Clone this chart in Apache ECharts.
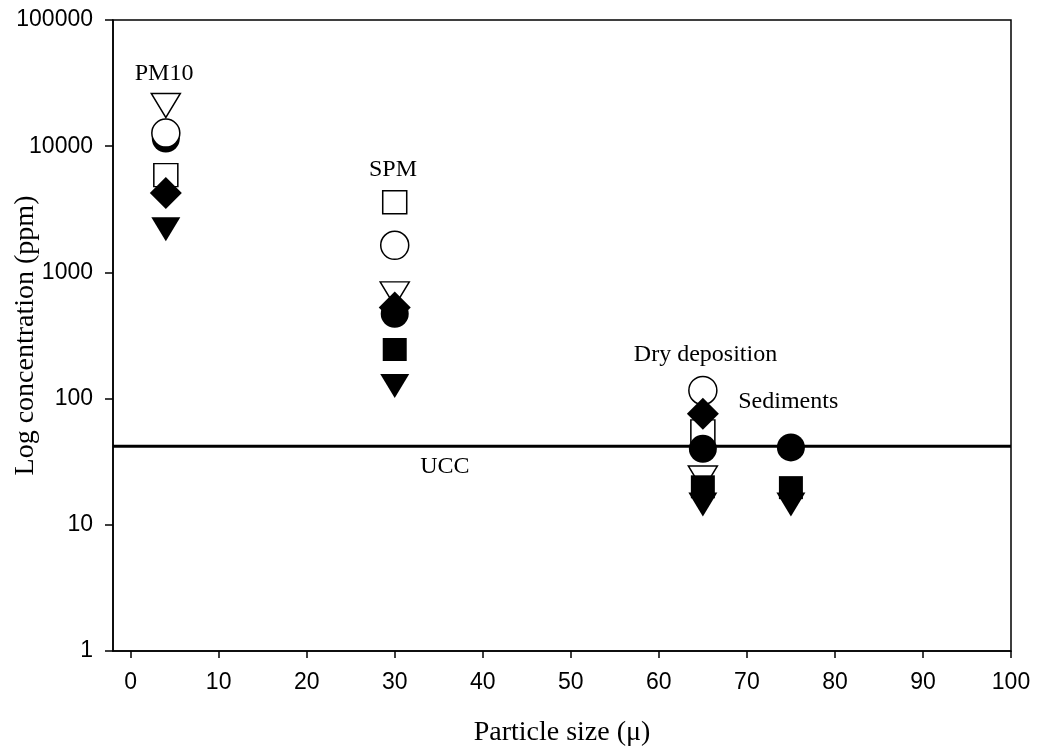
<!DOCTYPE html>
<html>
<head>
<meta charset="utf-8">
<script src="https://cdn.jsdelivr.net/npm/echarts@6/dist/echarts.min.js"></script>
<style>
html,body{margin:0;padding:0;background:#fff;}
#chart{width:1037px;height:748px;}
</style>
</head>
<body>
<div id="chart"></div>
<script>
// ---- Data (x = particle size, y = concentration in ppm) ----
const xTicks = [0, 10, 20, 30, 40, 50, 60, 70, 80, 90, 100];
const yTicks = [1, 10, 100, 1000, 10000, 100000];

const openSquare     = [[4, 5900], [30, 3600], [65, 55]];
const openTriangle   = [[4, 21000], [30, 675], [65, 23.5]];
const filledCircle   = [[4, 11500], [30, 470], [65, 40], [75, 41]];
const openCircle     = [[4, 12700], [30, 1640], [65, 116]];
const filledDiamond  = [[4, 4250], [30, 527], [65, 76]];
const filledSquare   = [[30, 245], [65, 20], [75, 19.7]];
const filledTriangle = [[4, 2200], [30, 126], [65, 14.5], [75, 14.5]];

const uccValue = 42;
const uccLine = [[-2, uccValue], [100, uccValue]];

const annotations = [
  [3.8, 37270, 'PM10'],
  [29.8, 6570, 'SPM'],
  [65.3, 223, 'Dry deposition'],
  [74.7, 94.7, 'Sediments'],
  [35.7, 28.8, 'UCC']
];

const serif = 'Liberation Serif, Times New Roman, serif';
const sans = 'Liberation Sans, Arial, sans-serif';

function openStyle() { return { color: '#fff', borderColor: '#000', borderWidth: 1.5, opacity: 1 }; }
function filledStyle() { return { color: '#000', borderColor: '#000', borderWidth: 0, opacity: 1 }; }

const chart = echarts.init(document.getElementById('chart'));
chart.setOption({
  animation: false,
  backgroundColor: '#fff',
  grid: {
    left: 113, right: 26, top: 20, bottom: 97,
    outerBoundsMode: 'none', containLabel: false,
    show: true, borderColor: '#000', borderWidth: 1.5, backgroundColor: 'transparent'
  },
  xAxis: {
    type: 'value', min: -2, max: 100,
    name: 'Particle size (\u03bc)', nameLocation: 'middle', nameGap: 68, nameMoveOverlap: false,
    nameTextStyle: { fontFamily: serif, fontSize: 28, color: '#000' },
    axisLine: { show: true, onZero: false, lineStyle: { color: '#000', width: 1.5 } },
    axisTick: { show: true, inside: false, length: 7, customValues: xTicks, lineStyle: { color: '#000', width: 1.5 } },
    axisLabel: { customValues: xTicks, margin: 20, fontFamily: sans, fontSize: 23, color: '#000' },
    splitLine: { show: false }
  },
  yAxis: {
    type: 'log', logBase: 10, min: 1, max: 100000,
    name: 'Log concentration (ppm)', nameLocation: 'middle', nameGap: 73, nameRotate: 90, nameMoveOverlap: false,
    nameTextStyle: { fontFamily: serif, fontSize: 28, color: '#000' },
    axisLine: { show: true, onZero: false, lineStyle: { color: '#000', width: 1.5 } },
    axisTick: { show: true, inside: false, length: 8, customValues: yTicks, lineStyle: { color: '#000', width: 1.5 } },
    axisLabel: { customValues: yTicks, margin: 20, fontFamily: sans, fontSize: 23, color: '#000',
      formatter: v => String(Math.round(v)) },
    splitLine: { show: false },
    minorTick: { show: false }
  },
  series: [
    { type: 'line', data: uccLine, symbol: 'none', lineStyle: { color: '#000', width: 3 }, z: 1, silent: true },
    { type: 'scatter', data: openSquare, symbol: 'rect', symbolSize: [24, 23], itemStyle: openStyle(), z: 2 },
    { type: 'scatter', data: openTriangle, symbol: 'triangle', symbolRotate: 180, symbolSize: [29, 24], itemStyle: openStyle(), z: 2 },
    { type: 'scatter', data: filledCircle, symbol: 'circle', symbolSize: 28, itemStyle: filledStyle(), z: 2 },
    { type: 'scatter', data: openCircle, symbol: 'circle', symbolSize: 28, itemStyle: openStyle(), z: 2 },
    { type: 'scatter', data: filledDiamond, symbol: 'diamond', symbolSize: [32, 32], itemStyle: filledStyle(), z: 2 },
    { type: 'scatter', data: filledSquare, symbol: 'rect', symbolSize: [24, 23], itemStyle: filledStyle(), z: 2 },
    { type: 'scatter', data: filledTriangle, symbol: 'triangle', symbolRotate: 180, symbolSize: [29, 24], itemStyle: filledStyle(), z: 2 },
    {
      type: 'scatter', data: annotations, symbolSize: 1, itemStyle: { color: 'transparent', opacity: 1 }, z: 3, silent: true,
      label: {
        show: true, position: 'inside', formatter: p => p.data[2],
        fontFamily: serif, fontSize: 24, color: '#000', opacity: 1
      }
    }
  ]
});
</script>
</body>
</html>
